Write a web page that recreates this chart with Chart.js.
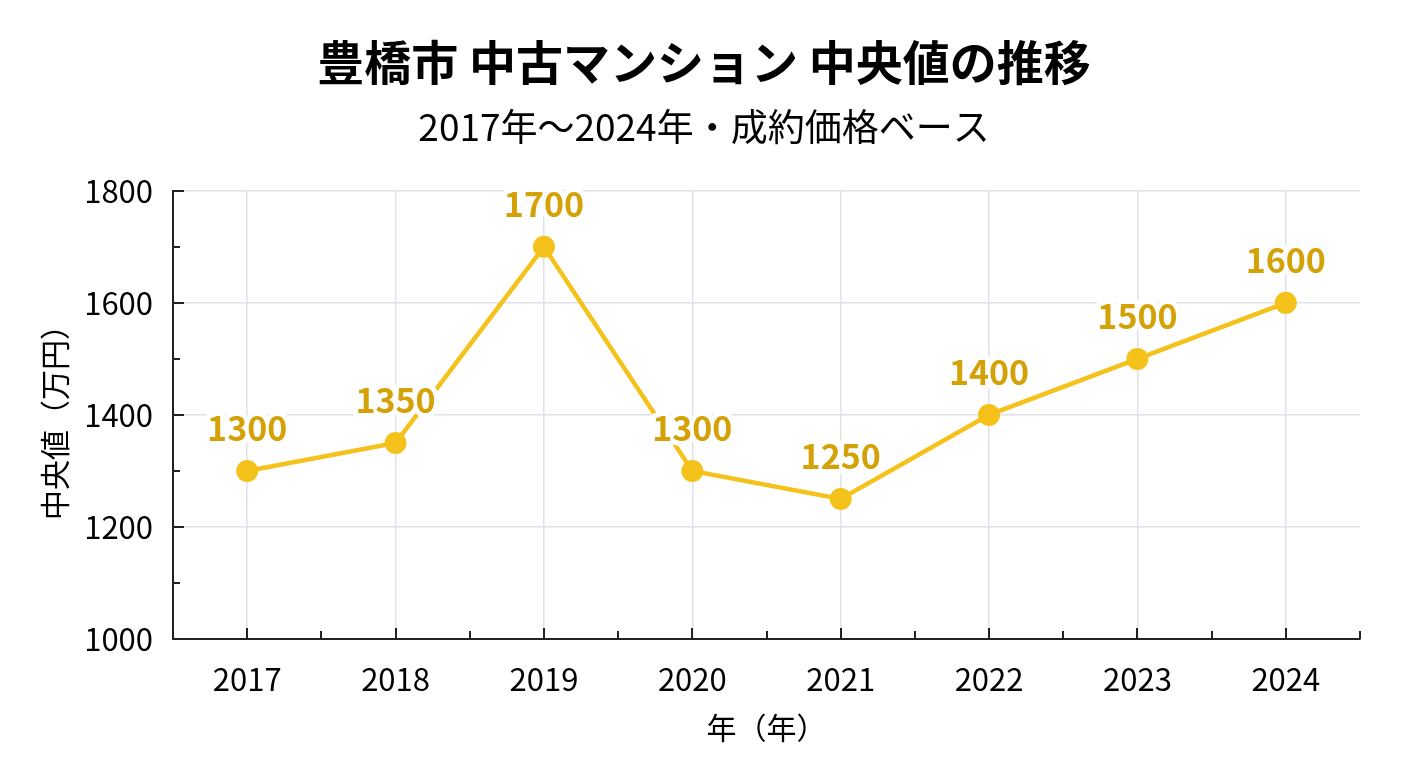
<!DOCTYPE html>
<html lang="ja">
<head>
<meta charset="utf-8">
<script src="https://cdn.jsdelivr.net/npm/chart.js@4/dist/chart.umd.min.js"></script>
<style>
  html, body { margin: 0; padding: 0; background: #fff; }
  #wrap { width: 1408px; height: 768px; }
</style>
</head>
<body>
<div id="wrap"><canvas id="c" width="1408" height="768"></canvas></div>
<script>
// データ
const years = ['2017', '2018', '2019', '2020', '2021', '2022', '2023', '2024'];
const medianPrice = [1300, 1350, 1700, 1300, 1250, 1400, 1500, 1600];
const yMin = 1000;
const yMax = 1800;
const yMajorStep = 200;
const yMinorStep = 100;

const FONT = '"Noto Sans CJK JP", "Noto Sans", sans-serif';
const lineColor = '#F4C21B';
const labelColor = '#D4A207';
const axisColor = '#222222';

// 内向きの目盛り線
const innerTicks = {
  id: 'innerTicks',
  afterDraw(chart) {
    const ctx = chart.ctx;
    const x = chart.scales.x;
    const y = chart.scales.y;
    const area = chart.chartArea;
    ctx.save();
    ctx.strokeStyle = axisColor;
    ctx.lineWidth = 2;
    ctx.beginPath();
    for (let v = yMin; v <= yMax; v += yMinorStep) {
      const py = Math.round(y.getPixelForValue(v));
      const len = (v - yMin) % yMajorStep === 0 ? 11 : 7;
      ctx.moveTo(area.left, py);
      ctx.lineTo(area.left + len, py);
    }
    for (let i = 0; i < years.length; i++) {
      const px = Math.round(x.getPixelForTick(i));
      ctx.moveTo(px, area.bottom);
      ctx.lineTo(px, area.bottom - 11);
    }
    for (let i = 0; i <= years.length; i++) {
      const px = Math.round(x.getPixelForValue(i - 0.5));
      ctx.moveTo(px, area.bottom);
      ctx.lineTo(px, area.bottom - 8);
    }
    ctx.stroke();
    ctx.restore();
  }
};

// 値ラベル
const valueLabels = {
  id: 'valueLabels',
  afterDatasetsDraw(chart) {
    const ctx = chart.ctx;
    const meta = chart.getDatasetMeta(0);
    ctx.save();
    ctx.font = 'bold 34px ' + FONT;
    ctx.textAlign = 'center';
    ctx.textBaseline = 'middle';
    ctx.lineJoin = 'round';
    meta.data.forEach((pt, i) => {
      const txt = String(medianPrice[i]);
      const ty = pt.y - 43;
      ctx.strokeStyle = '#ffffff';
      ctx.lineWidth = 10;
      ctx.strokeText(txt, pt.x, ty);
      ctx.fillStyle = labelColor;
      ctx.fillText(txt, pt.x, ty);
    });
    ctx.restore();
  }
};

new Chart(document.getElementById('c'), {
  type: 'line',
  data: {
    labels: years,
    datasets: [{
      label: '中央値',
      data: medianPrice,
      borderColor: lineColor,
      backgroundColor: lineColor,
      borderWidth: 4.5,
      pointRadius: 11,
      pointHoverRadius: 11,
      pointBackgroundColor: lineColor,
      pointBorderColor: lineColor,
      pointBorderWidth: 0,
      tension: 0,
      clip: false
    }]
  },
  options: {
    responsive: false,
    animation: false,
    devicePixelRatio: 1,
    // 左右同じ余白にしてタイトルを中央に
    layout: { padding: { left: 48, right: 48, top: 0, bottom: 0 } },
    plugins: {
      legend: { display: false },
      tooltip: { enabled: false },
      title: {
        display: true,
        text: '豊橋市 中古マンション 中央値の推移',
        color: '#000',
        font: { family: FONT, size: 47, weight: 'bold', lineHeight: 1.2 },
        padding: { top: 34, bottom: 14 }
      },
      subtitle: {
        display: true,
        text: '2017年〜2024年・成約価格ベース',
        color: '#000',
        font: { family: FONT, size: 37, lineHeight: 1.2 },
        padding: { top: 0, bottom: 42 }
      }
    },
    scales: {
      x: {
        type: 'category',
        offset: true,
        grid: { offset: false, color: '#dfe2ea', lineWidth: 1.5, drawTicks: false },
        border: { display: true, color: axisColor, width: 2 },
        ticks: { color: '#000', font: { family: FONT, size: 31 }, padding: 22, maxRotation: 0 },
        title: {
          display: true,
          text: '年（年）',
          color: '#000',
          font: { family: FONT, size: 30, lineHeight: 1.2 },
          padding: { top: 0, bottom: 22 }
        },
        afterFit(s) { s.height = 768 - 639; }
      },
      y: {
        min: yMin,
        max: yMax,
        grid: { color: '#dfe2ea', lineWidth: 1.5, drawTicks: false },
        border: { display: true, color: axisColor, width: 2 },
        ticks: {
          stepSize: yMajorStep,
          color: '#000',
          font: { family: FONT, size: 31 },
          padding: 20,
          callback: v => String(v)
        },
        title: {
          display: true,
          text: '中央値（万円）',
          color: '#000',
          font: { family: FONT, size: 30, lineHeight: 1.2 },
          padding: { top: -11, bottom: 0 }
        },
        afterFit(s) { s.width = 173 - 48; }
      }
    }
  },
  plugins: [innerTicks, valueLabels]
});
</script>
</body>
</html>
